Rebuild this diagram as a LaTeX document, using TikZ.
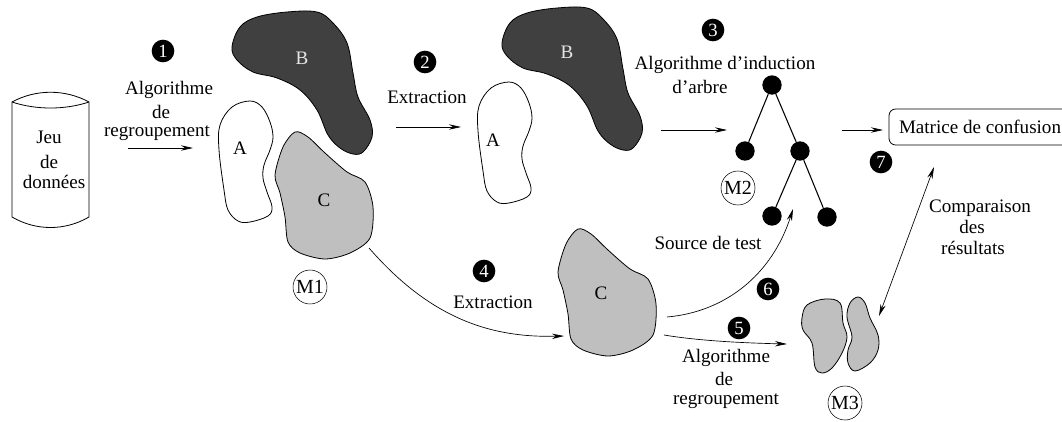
\documentclass[tikz,border=0pt]{standalone}
\usepackage{fontspec}
\setmainfont{Liberation Serif}
\usetikzlibrary{arrows.meta}

\newcommand{\blobA}{plot[smooth cycle, tension=0.6] coordinates {(250,101) (262,107) (270,122) (273,137) (270,150) (264,165) (263,178) (267,192) (272,207) (268,216) (250,222) (238,221) (228,210) (224,190) (219,150) (220,125) (232,107)}}
\newcommand{\blobB}{plot[smooth cycle, tension=0.6] coordinates {(232,47) (240,27) (257,17) (287,12) (317,12) (333,23) (347,43) (353,73) (358,97) (370,120) (372,137) (363,152) (353,154) (340,148) (328,135) (317,110) (300,90) (277,78) (253,72) (237,60)}}
\newcommand{\blobC}{plot[smooth cycle, tension=0.5] coordinates {(275,175) (283,147) (295,132) (308,137) (325,153) (347,172) (365,182) (373,207) (370,238) (350,253) (325,259) (300,253) (288,242) (285,217) (280,193)}}

\tikzset{
  lbl/.style={inner sep=0pt, font=\fontsize{14.3}{16}\selectfont},
  num/.style={circle, fill=black, text=white, inner sep=0pt, minimum size=17pt, font=\fontsize{14}{14}\selectfont},
  model/.style={circle, draw, inner sep=0pt, minimum size=25.5pt, font=\fontsize{15}{16}\selectfont},
  leaf/.style={circle, fill=black, inner sep=0pt, minimum size=14.5pt},
  edge/.style={draw, line width=0.8pt},
  flow/.style={draw, line width=0.5pt, -{Stealth[length=9pt, width=4pt]}},
  outline/.style={draw, line width=0.6pt}
}

\begin{document}
\begin{tikzpicture}[x=0.75pt, y=-0.75pt]
    \useasboundingbox (0,0) rectangle (1062,421);

    % Data set
    \draw[outline] (12,102) .. controls (36,89) and (65,89) .. (89,102) -- (89,217)
      .. controls (65,231) and (36,231) .. (12,217) -- cycle;
    \draw[outline] (12,102) .. controls (36,110) and (65,110) .. (89,102);
    \node[lbl] (jeu) at (49,137) {Jeu};
    \node[lbl] (jeude) at (49,162) {de};
    \node[lbl] (donnees) at (54,182) {données};

    % First model
    \draw[outline] \blobA;
    \draw[outline, fill=black!75] \blobB;
    \draw[outline, fill=black!25] \blobC;
    \node[lbl] (labA) at (240,148) {A};
    \node[lbl, text=black!10] (labB) at (302,58) {B};
    \node[lbl] (labC) at (324,200) {C};
    \node[model] (m1) at (310,287) {M1};

    % Extracted clusters
    \begin{scope}[shift={(259,-19)}]
      \draw[outline] \blobA;
    \end{scope}
    \begin{scope}[shift={(270,-4)}]
      \draw[outline, fill=black!75] \blobB;
    \end{scope}
    \begin{scope}[shift={(283,97)}]
      \draw[outline, fill=black!25] \blobC;
    \end{scope}
    \node[lbl] (labAb) at (493,140) {A};
    \node[lbl, text=black!10] (labBb) at (567,52) {B};
    \node[lbl] (labCb) at (601,293) {C};

    % Third model
    \draw[outline, fill=black!25] plot[smooth cycle, tension=0.6] coordinates {(802,318) (807,305) (825,299) (840,303) (843,323) (847,337) (842,353) (832,368) (822,373) (815,367) (812,343) (803,330)};
    \draw[outline, fill=black!25] plot[smooth cycle, tension=0.6] coordinates {(847,317) (850,303) (858,297) (865,303) (870,318) (878,335) (878,350) (870,363) (855,371) (848,363) (848,350) (852,337)};
    \node[model] (m3) at (845,403) {M3};

    % Tree
    \node[leaf] (root) at (772,85) {};
    \node[leaf] (left) at (745,151) {};
    \node[leaf] (right) at (800,151) {};
    \node[leaf] (rleft) at (772,216) {};
    \node[leaf] (rright) at (827,217) {};
    \draw[edge] (root) -- (left);
    \draw[edge] (root) -- (right);
    \draw[edge] (right) -- (rleft);
    \draw[edge] (right) -- (rright);
    \node[model] (m2) at (738,188) {M2};

    % Confusion matrix
    \draw[outline, rounded corners=5pt] (1068,109) -- (889,109) -- (889,145) -- (1068,145);
    \node[lbl] (matrice) at (980,127) {Matrice de confusion};

    % Numbers
    \node[num] (n1) at (163,51) {1};
    \node[num] (n2) at (425,62) {2};
    \node[num] (n3) at (713,30) {3};
    \node[num] (n4) at (484,271) {4};
    \node[num] (n5) at (739,328) {5};
    \node[num] (n6) at (768,289) {6};
    \node[num] (n7) at (881,162) {7};

    % Text on arrows
    \node[lbl] (algoa) at (169,90) {Algorithme};
    \node[lbl] (algob) at (161,112) {de};
    \node[lbl] (algoc) at (157,133) {regroupement};
    \node[lbl] (extra) at (427,97) {Extraction};
    \node[lbl] (indua) at (725,65) {Algorithme d’induction};
    \node[lbl] (indub) at (700,87) {d’arbre};
    \node[lbl] (extrb) at (493,302) {Extraction};
    \node[lbl] (source) at (708,243) {Source de test};
    \node[lbl] (regra) at (726,358) {Algorithme};
    \node[lbl] (regrb) at (724,379) {de};
    \node[lbl] (regrc) at (726,401) {regroupement};
    \node[lbl] (compa) at (980,208) {Comparaison};
    \node[lbl] (compb) at (972,227) {des};
    \node[lbl] (compc) at (973,248) {résultats};

    % Free ends
    \coordinate (a1s) at (128,148);
    \coordinate (a1e) at (193,148);
    \coordinate (a2s) at (396,127);
    \coordinate (a2e) at (461,127);
    \coordinate (a3s) at (661,130);
    \coordinate (a3e) at (727,130);
    \coordinate (a4s) at (842,130);
    \coordinate (a4e) at (883,130);
    \coordinate (c4s) at (369,248);
    \coordinate (c4e) at (564,336);
    \coordinate (c6s) at (667,317);
    \coordinate (c6e) at (793,209);
    \coordinate (c5s) at (664,335);
    \coordinate (c5e) at (787,344);
    \coordinate (dbls) at (934,167);
    \coordinate (dble) at (879,316);

    % Connection
    \draw[flow] (a1s) -- (a1e);
    \draw[flow] (a2s) -- (a2e);
    \draw[flow] (a3s) -- (a3e);
    \draw[flow] (a4s) -- (a4e);
    \draw[flow] (c4s) .. controls (430,318) and (490,338) .. (c4e);
    \draw[flow] (c6s) .. controls (725,312) and (772,275) .. (c6e);
    \draw[flow] (c5s) .. controls (700,341) and (745,343) .. (c5e);
    \draw[flow, {Stealth[length=9pt, width=4pt]}-{Stealth[length=9pt, width=4pt]}] (dbls) -- (dble);
\end{tikzpicture}
\end{document}
